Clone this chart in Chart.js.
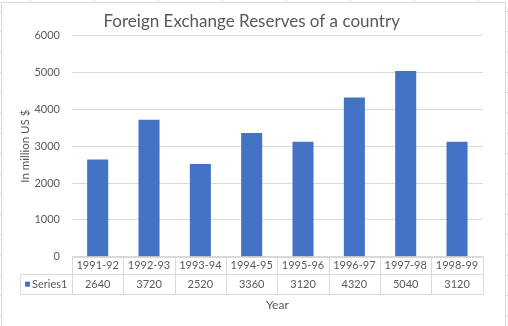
<!DOCTYPE html>
<html>
<head>
<meta charset="utf-8">
<script src="https://cdn.jsdelivr.net/npm/chart.js@4/dist/chart.umd.min.js"></script>
<style>
  html, body {
    margin: 0;
    padding: 0;
  }
  body {
    width: 508px;
    height: 326px;
    overflow: hidden;
    background-color: #fff;
    background-image:
      linear-gradient(to bottom, #d9d9d9 1px, transparent 1px),
      linear-gradient(to right, #d9d9d9 1px, transparent 1px);
    background-size: 64px 20.3px;
    background-position: 30px 11px;
  }
  #wrap {
    position: absolute;
    left: 0;
    top: 0;
  }
</style>
</head>
<body>
<div id="wrap"><canvas id="reserves" width="508" height="326"></canvas></div>
<script>
const years = ['1991-92', '1992-93', '1993-94', '1994-95', '1995-96', '1996-97', '1997-98', '1998-99']
const reserves = [2640, 3720, 2520, 3360, 3120, 4320, 5040, 3120]
const seriesName = 'Series1'

const textColor = '#595959'
const lineColor = '#d9d9d9'
const barColor = '#4472c4'
const fontFamily = 'Lato, "Open Sans", sans-serif'

// white chart box with the thin outline, drawn under everything
const chartBox = {
  id: 'chartBox',
  beforeDraw (chart) {
    const ctx = chart.ctx
    ctx.save()
    ctx.fillStyle = '#fff'
    ctx.fillRect(1, 2, 504, 330)
    ctx.strokeStyle = lineColor
    ctx.lineWidth = 1
    ctx.strokeRect(1.5, 2.5, 504, 330)
    ctx.restore()
  }
}

// data table under the plot: year row, then legend key + values row
const dataTable = {
  id: 'dataTable',
  afterDraw (chart) {
    const ctx = chart.ctx
    const x = chart.scales.x
    const area = chart.chartArea
    const n = years.length
    const cell = (x.right - x.left) / n
    const top = area.bottom
    const mid = top + 17.5
    const bottom = mid + 20
    const keyLeft = 20

    ctx.save()
    ctx.strokeStyle = lineColor
    ctx.lineWidth = 1
    ctx.beginPath()
    ctx.moveTo(x.left, Math.round(top) + 0.5)
    ctx.lineTo(x.right, Math.round(top) + 0.5)
    ctx.moveTo(keyLeft, Math.round(mid) + 0.5)
    ctx.lineTo(x.right, Math.round(mid) + 0.5)
    ctx.moveTo(keyLeft, Math.round(bottom) + 0.5)
    ctx.lineTo(x.right, Math.round(bottom) + 0.5)
    for (let i = 0; i <= n; i++) {
      const px = Math.round(x.left + i * cell) + 0.5
      ctx.moveTo(px, Math.round(top))
      ctx.lineTo(px, Math.round(bottom) + 1)
    }
    ctx.moveTo(keyLeft + 0.5, Math.round(mid))
    ctx.lineTo(keyLeft + 0.5, Math.round(bottom) + 1)
    ctx.stroke()

    ctx.fillStyle = textColor
    ctx.font = '11px ' + fontFamily
    ctx.textAlign = 'center'
    ctx.textBaseline = 'middle'
    years.forEach((year, i) => {
      const cx = x.getPixelForValue(i)
      ctx.fillText(year, cx, (top + mid) / 2 + 0.5)
      ctx.fillText(String(reserves[i]), cx, (mid + bottom) / 2 + 0.5)
    })

    // legend key
    ctx.fillStyle = barColor
    ctx.fillRect(keyLeft + 5, (mid + bottom) / 2 - 2.5, 5, 5)
    ctx.fillStyle = textColor
    ctx.textAlign = 'left'
    ctx.fillText(seriesName, keyLeft + 12, (mid + bottom) / 2 + 0.5)
    ctx.restore()
  }
}

const chart = new Chart(document.getElementById('reserves'), {
  type: 'bar',
  data: {
    labels: years,
    datasets: [
      {
        label: seriesName,
        data: reserves,
        backgroundColor: barColor,
        borderWidth: 0,
        categoryPercentage: 1,
        barPercentage: 0.41
      }
    ]
  },
  options: {
    responsive: false,
    animation: false,
    devicePixelRatio: 1,
    layout: {
      // left/right kept balanced around the title's centre
      padding: { left: 20.7, right: 25.3, top: 0, bottom: 0 }
    },
    plugins: {
      legend: { display: false },
      tooltip: { enabled: false },
      title: {
        display: true,
        text: 'Foreign Exchange Reserves of a country',
        color: textColor,
        font: { family: fontFamily, size: 17, weight: 'normal' },
        padding: { top: 11, bottom: 4.3 }
      }
    },
    scales: {
      x: {
        grid: { display: false },
        border: { display: false },
        ticks: { display: false },
        title: {
          display: true,
          text: 'Year',
          color: textColor,
          font: { family: fontFamily, size: 12 },
          padding: { top: 0, bottom: 13.7 }
        },
        afterFit (scale) { scale.height = 69.3 }
      },
      y: {
        min: 0,
        max: 6000,
        ticks: {
          stepSize: 1000,
          color: textColor,
          padding: 12,
          font: { family: fontFamily, size: 11 },
          callback: value => String(value)
        },
        grid: { color: lineColor, drawTicks: false },
        border: { display: false },
        title: {
          display: true,
          text: 'In million US $',
          color: textColor,
          font: { family: fontFamily, size: 11.5 },
          padding: { top: -2.4, bottom: 0 }
        },
        afterFit (scale) { scale.width = 51.3 }
      }
    }
  },
  plugins: [chartBox, dataTable]
})
</script>
</body>
</html>
